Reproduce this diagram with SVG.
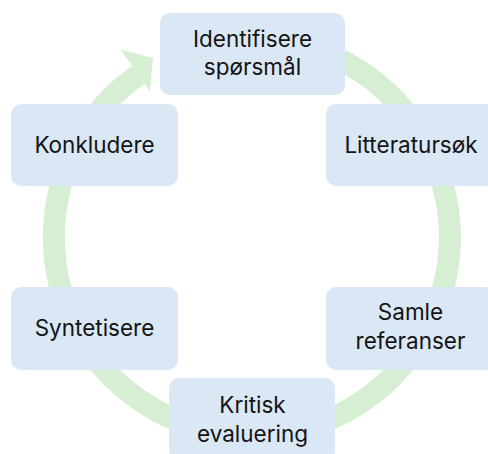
<svg xmlns="http://www.w3.org/2000/svg" width="488" height="454" viewBox="0 0 488 454">
  <style>
    .box { fill: #dae7f5; }
    .lbl { font-family: Inter, "Liberation Sans", sans-serif; font-size: 22.5px; fill: #141414; text-anchor: middle; }
    .ring { fill: none; stroke: #d6eed2; stroke-width: 22; }
    .head { fill: #d6eed2; }
  </style>
  <rect x="0" y="0" width="488" height="454" fill="#ffffff"/>
  <g id="connectors">
    <path class="ring" d="M 234.7 39.8 A 198 198 0 1 1 138.4 74.8"/>
    <polygon class="head" points="120.6,49.4 153,58 149.9,91.2"/>
  </g>
  <g id="node-identifisere">
    <rect class="box" x="160" y="13" width="185" height="82" rx="10"/>
    <text class="lbl" x="252.5" y="46.5">Identifisere</text>
    <text class="lbl" x="252.5" y="75">spørsmål</text>
  </g>
  <g id="node-litteratursok">
    <rect class="box" x="326" y="104" width="168" height="82" rx="10"/>
    <text class="lbl" x="411" y="153">Litteratursøk</text>
  </g>
  <g id="node-samle">
    <rect class="box" x="326" y="287" width="168" height="83" rx="10"/>
    <text class="lbl" x="410.5" y="320.3">Samle</text>
    <text class="lbl" x="410.5" y="348.8">referanser</text>
  </g>
  <g id="node-kritisk">
    <rect class="box" x="169" y="378" width="166" height="82" rx="10"/>
    <text class="lbl" x="252.5" y="413.3">Kritisk</text>
    <text class="lbl" x="252.5" y="441.8">evaluering</text>
  </g>
  <g id="node-syntetisere">
    <rect class="box" x="11" y="287" width="167" height="83" rx="10"/>
    <text class="lbl" x="94.5" y="335.5">Syntetisere</text>
  </g>
  <g id="node-konkludere">
    <rect class="box" x="11" y="104" width="167" height="82" rx="10"/>
    <text class="lbl" x="94.5" y="153">Konkludere</text>
  </g>
</svg>
